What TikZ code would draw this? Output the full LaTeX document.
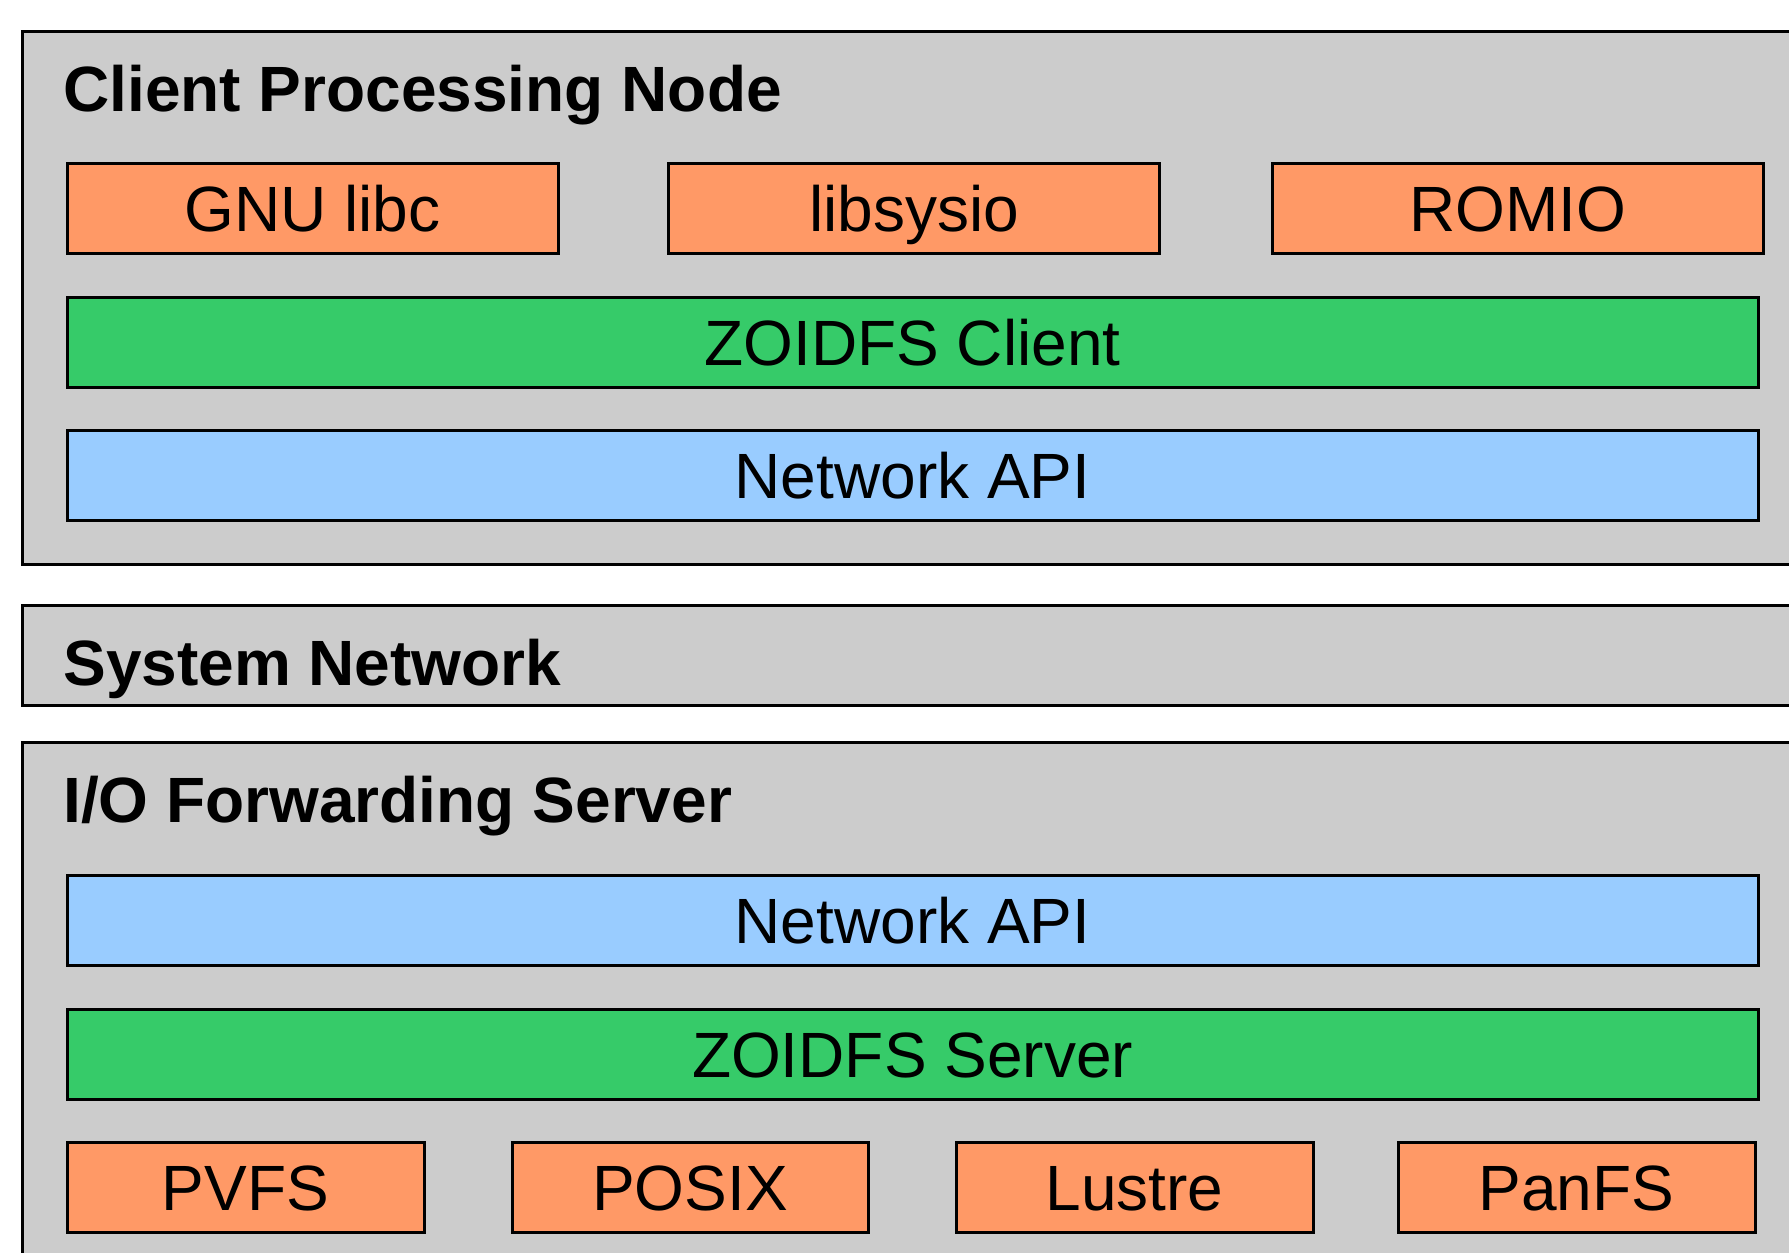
\documentclass[tikz,border=0pt]{standalone}
\usepackage{fontspec}
\setmainfont{Liberation Sans}
\definecolor{bggray}{HTML}{CCCCCC}
\definecolor{orng}{HTML}{FF9966}
\definecolor{grn}{HTML}{36CB69}
\definecolor{blu}{HTML}{99CCFF}
\begin{document}
\begin{tikzpicture}[x=0.5pt,y=-0.5pt,
  outer/.style={draw=black, fill=bggray, line width=1.5pt},
  layer/.style={draw=black, line width=1.5pt, rectangle, inner sep=0pt,
    minimum height=45pt, text height=23pt, text depth=0pt,
    font=\fontsize{32}{38}\selectfont},
  lib/.style={layer, fill=orng},
  zoid/.style={layer, fill=grn},
  netw/.style={layer, fill=blu},
  title/.style={anchor=base west, inner sep=0pt,
    font=\fontsize{32}{38}\selectfont\bfseries}]
\useasboundingbox (0,0) rectangle (1789,1253);
\clip (0,0) rectangle (1789,1253);
\fill[white] (0,0) rectangle (1789,1253);
% outer containers
\draw[outer] (22,31) rectangle (1810,564);
\draw[outer] (22,605) rectangle (1810,705);
\draw[outer] (22,742) rectangle (1810,1300);
% titles
\node[title] (tclient) at (63,111) {Client Processing Node};
\node[title] (tnet) at (63,685) {System Network};
\node[title] (tio) at (63,822) {I/O Forwarding Server};
% client layers
\node[lib, minimum width=245.5pt] (libc) at (312.5,208) {GNU libc};
\node[lib, minimum width=245.5pt] (sysio) at (914,208) {libsysio};
\node[lib, minimum width=245.5pt] (romio) at (1517.5,208) {ROMIO};
\node[zoid, minimum width=845.5pt] (zclient) at (912.5,342) {ZOIDFS Client};
\node[netw, minimum width=845.5pt] (napi1) at (912.5,475) {Network API};
% server layers
\node[netw, minimum width=845.5pt] (napi2) at (912.5,920) {Network API};
\node[zoid, minimum width=845.5pt] (zserver) at (912.5,1054) {ZOIDFS Server};
\node[lib, minimum width=178.5pt] (pvfs) at (245.5,1187) {PVFS};
\node[lib, minimum width=178pt] (posix) at (690,1187) {POSIX};
\node[lib, minimum width=178.5pt] (lustre) at (1134.5,1187) {Lustre};
\node[lib, minimum width=178.5pt] (panfs) at (1576.5,1187) {PanFS};
\end{tikzpicture}
\end{document}
